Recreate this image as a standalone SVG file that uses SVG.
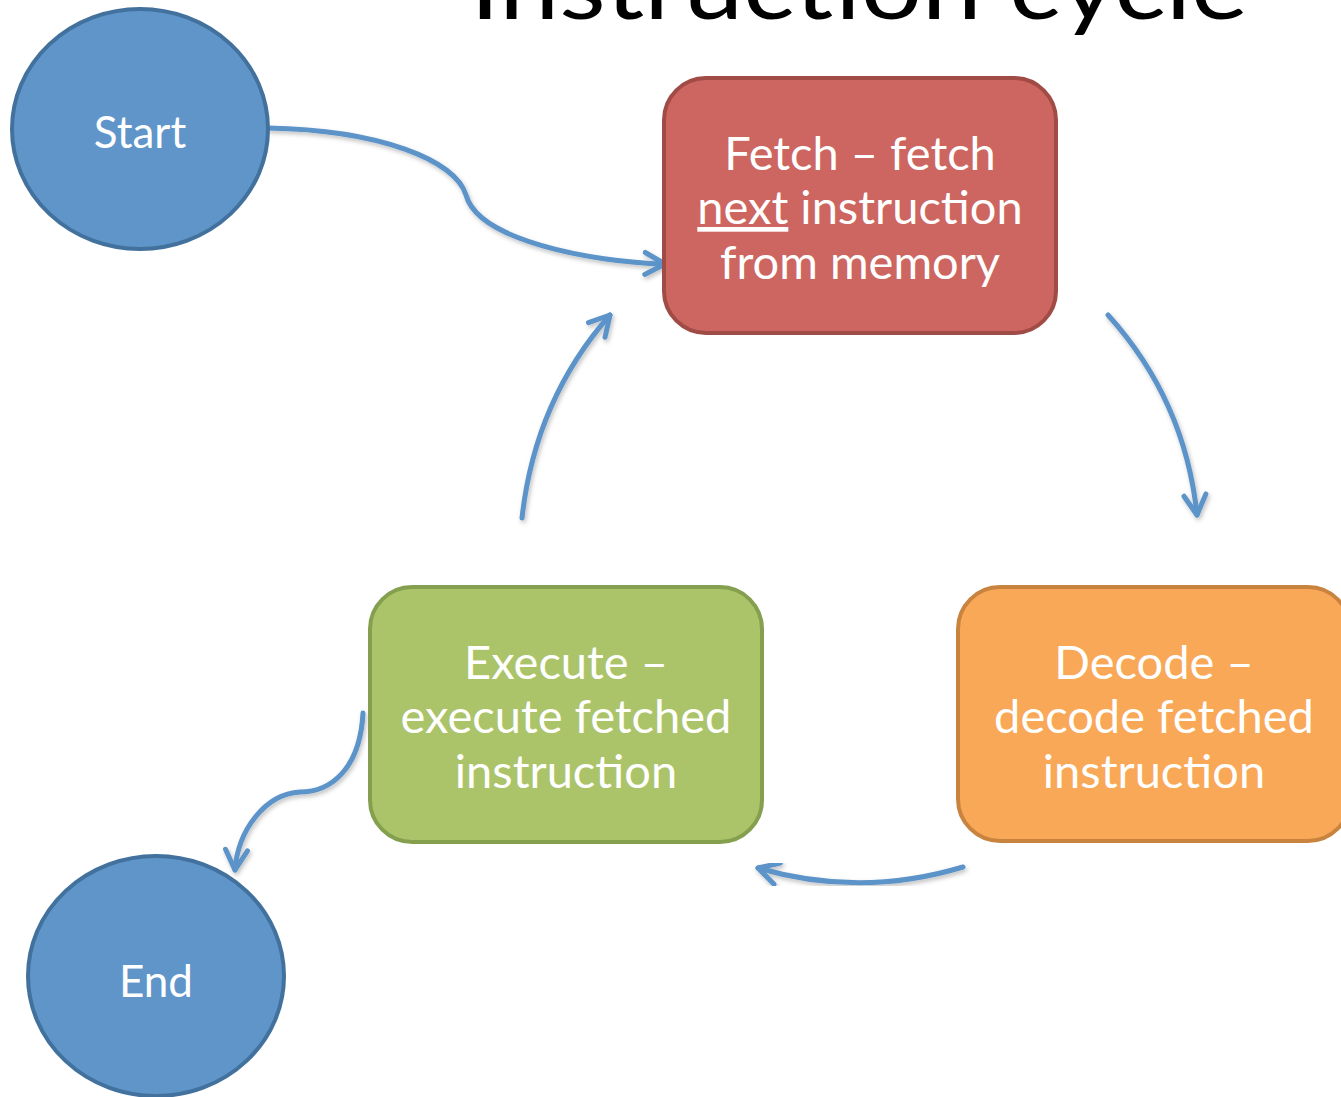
<svg xmlns="http://www.w3.org/2000/svg" width="1341" height="1097" viewBox="0 0 1341 1097">
  <style>
    .title { font-family: "Lato", "Liberation Sans", sans-serif; font-size: 92px; fill: #000; }
    .label { font-family: "Lato", "Liberation Sans", sans-serif; font-size: 44px; fill: #fff; text-anchor: middle; }
    .box-label { font-size: 47px; }
    .term { fill: #5f95c9; stroke: #41719c; stroke-width: 4; }
    .fetch { fill: #cd6660; stroke: #a04b46; stroke-width: 4; }
    .execute { fill: #abc46a; stroke: #84a04f; stroke-width: 4; }
    .decode { fill: #f9a857; stroke: #c8843f; stroke-width: 4; }
    .link { fill: none; stroke: #5b93c9; stroke-width: 5; stroke-linecap: round; marker-end: url(#chevron); filter: url(#soft); }
  </style>
  <defs>
    <marker id="chevron" markerUnits="userSpaceOnUse" viewBox="-26 -14 30 28" refX="0" refY="0" markerWidth="30" markerHeight="28" orient="auto">
      <path d="M-20,-11 L0,0 L-20,11" fill="none" stroke="#5b93c9" stroke-width="5" stroke-linecap="round" stroke-linejoin="round"/>
    </marker>
    <filter id="soft" x="-20%" y="-20%" width="140%" height="140%">
      <feDropShadow dx="1.5" dy="2.5" stdDeviation="2" flood-color="#000" flood-opacity="0.25"/>
    </filter>
  </defs>

  <rect width="1341" height="1097" fill="#fff"/>

  <!-- heading runs off the top edge of the page -->
  <text class="title" x="470" y="19" textLength="778" lengthAdjust="spacingAndGlyphs">Instruction cycle</text>

  <g id="connectors">
    <path class="link" d="M268,128 C380,130 455,160 466,195 C478,240 590,262 665,264"/>
    <path class="link" d="M1108,315 Q1185,400 1197,515"/>
    <path class="link" d="M963,867 Q860,898 758,868"/>
    <path class="link" d="M522,518 Q535,400 610,315"/>
    <path class="link" d="M363,713 C360,770 330,792 300,792 C265,794 238,830 235,870"/>
  </g>

  <g id="start">
    <ellipse class="term" cx="140" cy="129" rx="128" ry="120"/>
    <text class="label" x="140" y="148">Start</text>
  </g>

  <g id="end">
    <ellipse class="term" cx="156" cy="976" rx="128" ry="120"/>
    <text class="label" x="156" y="997">End</text>
  </g>

  <g id="fetch">
    <rect class="fetch" x="664" y="78" width="392" height="255" rx="42"/>
    <text class="label box-label" x="860" y="170">Fetch – fetch</text>
    <text class="label box-label" x="860" y="224"><tspan text-decoration="underline">next</tspan> instruction</text>
    <text class="label box-label" x="860" y="279">from memory</text>
  </g>

  <g id="execute">
    <rect class="execute" x="370" y="587" width="392" height="255" rx="42"/>
    <text class="label box-label" x="566" y="679">Execute –</text>
    <text class="label box-label" x="566" y="733">execute fetched</text>
    <text class="label box-label" x="566" y="788">instruction</text>
  </g>

  <g id="decode">
    <rect class="decode" x="958" y="587" width="392" height="254" rx="42"/>
    <text class="label box-label" x="1154" y="679">Decode –</text>
    <text class="label box-label" x="1154" y="733">decode fetched</text>
    <text class="label box-label" x="1154" y="788">instruction</text>
  </g>
</svg>
